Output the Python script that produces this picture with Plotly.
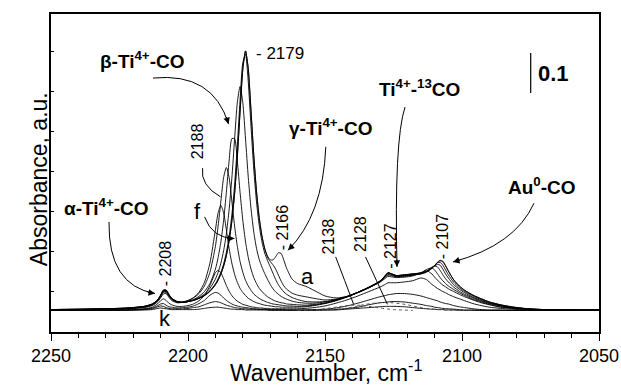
import plotly.graph_objects as go

# ---------------- data ----------------
# wavenumber grid (cm-1) shared by spectra a..k
wavenumber = [2250, 2240, 2230, 2222, 2216, 2213, 2211, 2210, 2209, 2208, 2207, 2206, 2204, 2202, 2200,
              2198, 2196, 2194, 2192, 2190, 2189, 2188, 2187, 2186, 2185, 2184, 2183, 2182, 2181, 2180,
              2179, 2178, 2177, 2176, 2175, 2174, 2173, 2172, 2171, 2170, 2169, 2168, 2167, 2166, 2165,
              2164, 2162, 2160, 2157, 2154, 2150, 2146, 2142, 2138, 2134, 2130, 2128, 2127, 2126, 2124,
              2121, 2118, 2115, 2113, 2111, 2110, 2109, 2108, 2107, 2106, 2105, 2103, 2101, 2099, 2096,
              2093, 2090, 2086, 2082, 2076, 2070, 2060, 2050]

# absorbance of each spectrum, in units of 0.001 (milli-absorbance)
spec_a = [56, 57, 58, 60, 64, 70, 81, 92, 105, 105, 94, 85, 76, 75, 76, 79, 84, 91, 102, 118,
          130, 145, 165, 191, 227, 277, 345, 437, 549, 656, 702, 657, 552, 442, 352, 286, 240, 209, 190, 180,
          180, 188, 198, 196, 179, 159, 132, 121, 114, 104, 90, 85, 89, 99, 111, 126, 141, 148, 146, 141,
          143, 145, 148, 151, 159, 166, 174, 179, 177, 166, 153, 130, 115, 104, 92, 83, 75, 68, 63, 58,
          56, 55, 55]
spec_b = [56, 57, 58, 60, 64, 70, 81, 92, 104, 105, 94, 84, 76, 74, 76, 79, 84, 91, 101, 118,
          130, 145, 164, 191, 227, 276, 345, 437, 550, 656, 702, 657, 552, 441, 350, 284, 238, 207, 187, 176,
          168, 157, 142, 127, 115, 107, 97, 92, 88, 84, 80, 82, 88, 98, 110, 126, 141, 148, 146, 141,
          142, 145, 147, 151, 159, 166, 173, 178, 175, 165, 152, 130, 115, 104, 92, 83, 75, 68, 63, 58,
          56, 55, 55]
spec_c = [56, 57, 58, 60, 64, 70, 81, 92, 103, 104, 94, 84, 76, 74, 76, 79, 84, 92, 103, 120,
          133, 149, 170, 199, 238, 292, 367, 466, 579, 673, 693, 624, 513, 407, 325, 266, 225, 197, 179, 163,
          147, 131, 118, 108, 100, 94, 86, 81, 76, 75, 76, 81, 89, 99, 112, 127, 141, 148, 146, 141,
          143, 145, 147, 151, 160, 166, 173, 174, 167, 155, 143, 124, 111, 101, 90, 81, 74, 67, 62, 58,
          56, 55, 55]
spec_d = [56, 56, 58, 59, 63, 69, 80, 91, 102, 103, 93, 83, 75, 74, 76, 80, 86, 95, 109, 132,
          149, 172, 203, 245, 305, 384, 481, 573, 613, 573, 482, 386, 308, 250, 209, 181, 162, 146, 132, 119,
          108, 100, 94, 89, 85, 82, 77, 74, 72, 72, 75, 80, 88, 99, 112, 127, 140, 147, 145, 140,
          141, 143, 145, 149, 159, 165, 169, 167, 157, 145, 135, 118, 107, 98, 87, 79, 72, 66, 61, 57,
          56, 55, 55]
spec_e = [55, 56, 57, 59, 63, 68, 79, 89, 101, 101, 91, 82, 75, 74, 76, 81, 89, 101, 121, 157,
          186, 225, 279, 349, 427, 483, 483, 427, 349, 279, 225, 186, 157, 136, 121, 109, 101, 94, 88, 84,
          80, 77, 75, 73, 72, 70, 69, 68, 67, 69, 72, 79, 88, 99, 111, 126, 138, 144, 143, 139,
          140, 142, 145, 151, 162, 165, 163, 154, 143, 133, 125, 112, 102, 94, 85, 77, 71, 65, 60, 57,
          55, 55, 54]
spec_f = [55, 56, 57, 59, 62, 68, 78, 88, 99, 99, 90, 82, 75, 75, 79, 85, 96, 115, 149, 214,
          265, 327, 386, 411, 386, 327, 265, 214, 176, 149, 129, 115, 104, 95, 89, 84, 80, 77, 74, 72,
          70, 69, 68, 67, 66, 65, 65, 64, 65, 67, 72, 79, 88, 99, 111, 125, 137, 142, 141, 138,
          139, 142, 147, 156, 160, 155, 146, 136, 128, 121, 115, 106, 98, 91, 82, 75, 69, 63, 60, 57,
          55, 55, 54]
spec_g = [55, 55, 56, 58, 61, 66, 76, 85, 95, 96, 87, 79, 73, 74, 78, 86, 99, 124, 172, 255,
          298, 316, 298, 255, 209, 172, 144, 124, 109, 99, 91, 84, 80, 76, 73, 71, 69, 67, 66, 65,
          64, 63, 63, 62, 62, 62, 62, 62, 63, 66, 71, 78, 87, 99, 111, 124, 134, 139, 138, 136,
          137, 140, 148, 154, 145, 137, 130, 123, 117, 113, 108, 101, 94, 88, 80, 73, 68, 62, 59, 56,
          55, 54, 54]
spec_h = [54, 55, 55, 56, 58, 62, 71, 78, 83, 79, 72, 68, 64, 64, 66, 70, 78, 91, 116, 148,
          154, 148, 133, 116, 102, 91, 83, 77, 73, 69, 67, 65, 63, 62, 61, 60, 60, 59, 59, 58,
          58, 58, 58, 58, 58, 58, 58, 58, 59, 61, 65, 72, 80, 90, 101, 112, 119, 123, 123, 123,
          125, 128, 135, 131, 119, 114, 109, 105, 101, 98, 94, 88, 83, 78, 71, 66, 62, 59, 57, 55,
          54, 54, 54]
spec_i = [54, 54, 55, 55, 57, 60, 66, 70, 71, 67, 63, 62, 60, 61, 62, 65, 71, 79, 92, 99,
          97, 92, 85, 79, 74, 70, 67, 65, 63, 62, 61, 60, 59, 58, 58, 57, 57, 57, 56, 56,
          56, 56, 56, 56, 56, 55, 55, 55, 55, 56, 57, 60, 65, 72, 80, 88, 91, 93, 94, 96,
          96, 94, 90, 86, 82, 80, 78, 75, 73, 71, 70, 66, 63, 61, 58, 56, 55, 55, 54, 54,
          54, 54, 54]
spec_j = [54, 54, 54, 55, 56, 58, 63, 65, 64, 61, 59, 58, 58, 58, 59, 61, 63, 68, 73, 76,
          75, 73, 70, 67, 65, 63, 61, 60, 59, 58, 58, 57, 57, 57, 56, 56, 56, 56, 55, 55,
          55, 55, 55, 55, 55, 55, 55, 55, 55, 55, 55, 56, 59, 62, 68, 73, 74, 75, 76, 76,
          75, 72, 69, 66, 64, 62, 61, 60, 59, 58, 58, 57, 56, 55, 55, 54, 54, 54, 54, 54,
          54, 54, 54]
spec_k = [54, 54, 54, 54, 55, 56, 59, 60, 59, 58, 57, 56, 56, 56, 56, 56, 57, 59, 61, 62,
          62, 61, 60, 59, 58, 57, 57, 56, 56, 56, 55, 55, 55, 55, 55, 55, 55, 55, 55, 54,
          54, 54, 54, 54, 54, 54, 54, 54, 54, 54, 55, 55, 57, 59, 61, 63, 64, 64, 64, 64,
          63, 61, 59, 58, 57, 57, 56, 56, 56, 55, 55, 55, 54, 54, 54, 54, 54, 54, 54, 54,
          54, 54, 54]

# two dotted difference traces (grey dotted in the reference)
dot1_wn = [2160, 2153, 2149, 2145, 2142, 2139, 2136, 2133, 2129, 2125, 2118]
dot1_abs = [54, 56, 59, 63, 66, 67, 66, 63, 59, 56, 54]
dot2_wn = [2150, 2144, 2140, 2136, 2132, 2128, 2124, 2120, 2116, 2112, 2106, 2096]
dot2_abs = [55, 58, 62, 68, 72, 74, 72, 68, 62, 58, 55, 54]

spectra = [spec_a, spec_b, spec_c, spec_d, spec_e, spec_f, spec_g, spec_h, spec_i, spec_j, spec_k]

# ---------------- figure ----------------
fig = go.Figure()
for s in spectra:
    fig.add_trace(go.Scatter(x=wavenumber, y=[v/1000 for v in s], mode="lines",
                             line=dict(color="black", width=0.9, shape="spline", smoothing=0.6),
                             showlegend=False, hoverinfo="skip"))
for xs, ys in [(dot1_wn, dot1_abs), (dot2_wn, dot2_abs)]:
    fig.add_trace(go.Scatter(x=xs, y=[v/1000 for v in ys], mode="lines",
                             line=dict(color="#555", width=1, dash="dot", shape="spline"),
                             showlegend=False, hoverinfo="skip"))

# pixel -> data helpers for placing labels (layout only)
def X(px): return 2250 - (px-51)/2.74
def Y(py): return (331.7-py)/400

FONT = "Liberation Sans, Arial, sans-serif"
ann = []
def txt(t, px, py, size, angle=0, bold=False):
    ann.append(dict(x=X(px), y=Y(py), xref="x", yref="y", text=("<b>%s</b>" % t) if bold else t,
                    showarrow=False, textangle=angle, font=dict(family=FONT, size=size, color="black"),
                    xanchor="center", yanchor="middle"))

txt("β-Ti<sup>4+</sup>-CO", 142, 60, 19, bold=True)
txt("γ-Ti<sup>4+</sup>-CO", 330, 127, 19, bold=True)
txt("Ti<sup>4+</sup>-<sup>13</sup>CO", 419, 88, 19, bold=True)
txt("Au<sup>0</sup>-CO", 542, 186, 19, bold=True)
txt("α-Ti<sup>4+</sup>-CO", 106, 206.5, 19, bold=True)
txt("0.1", 553, 73, 22, bold=True)
txt("- 2179", 280, 53, 17)
txt("- 2208", 165, 264, 16, angle=-90)
txt("- 2166", 282, 228, 16, angle=-90)
txt("2188", 197.5, 141.7, 16, angle=-90)
txt("2138", 328.3, 236, 16, angle=-90)
txt("2128", 360.7, 234, 16, angle=-90)
txt("- 2127", 390.5, 246, 16, angle=-90)
txt("- 2107", 443.3, 236.7, 16, angle=-90)
txt("f", 197, 211, 22)
txt("a", 307.5, 276, 22)
txt("k", 165, 318, 22)

shapes = []
def curve(p0, c, p1, head=True):
    shapes.append(dict(type="path", xref="x", yref="y",
                       path="M %f,%f Q %f,%f %f,%f" % (X(p0[0]), Y(p0[1]), X(c[0]), Y(c[1]), X(p1[0]), Y(p1[1])),
                       line=dict(color="black", width=1)))
    if head:
        dx, dy = c[0]-p1[0], c[1]-p1[1]
        d = (dx*dx+dy*dy)**0.5
        ann.append(dict(x=X(p1[0]), y=Y(p1[1]), xref="x", yref="y", text="", showarrow=True,
                        ax=dx/d*9, ay=dy/d*9, arrowhead=2, arrowsize=1.3, arrowwidth=1, arrowcolor="black",
                        font=dict(size=10)))

curve((153, 78), (213, 72), (228.5, 124))
curve((325.8, 146.7), (323, 215), (288, 250))
curve((405, 107), (394, 140), (397, 266.7))
curve((534, 203), (515, 245), (453, 261.7))
curve((109, 221.7), (108, 285), (155, 293.3))
curve((204.6, 216.7), (212, 238), (234.4, 238.3))
curve((202.6, 168), (200, 185), (220.5, 196.7), head=False)
curve((335.7, 256.7), (344.6, 280), (353.6, 304), head=False)
curve((365.5, 256.7), (376.4, 280), (387.4, 304), head=False)
shapes.append(dict(type="line", xref="x", yref="y", x0=X(530.7), x1=X(530.7), y0=Y(53), y1=Y(93),
                   line=dict(color="black", width=1.2)))

ann.append(dict(x=(24-51)/548, y=(331.7-179)/317.7, xref="paper", yref="paper", text="Absorbance, a.u.",
                showarrow=False, textangle=-90, font=dict(family=FONT, size=23, color="black")))
ann.append(dict(x=(326-51)/548, y=(331.7-370.5)/317.7, xref="paper", yref="paper",
                text="Wavenumber, cm<sup>-1</sup>", showarrow=False, yanchor="middle",
                font=dict(family=FONT, size=23, color="black")))

fig.update_layout(
    template="none",
    width=621, height=385, margin=dict(l=51, r=22, t=14, b=53.3, pad=0),
    paper_bgcolor="white", plot_bgcolor="white", annotations=ann, shapes=shapes,
    xaxis=dict(range=[2250, 2050], tick0=2050, dtick=50, ticks="outside", ticklen=7, tickwidth=1.2,
               tickcolor="black", minor=dict(dtick=10, ticks="outside", ticklen=4, tickcolor="black", tickwidth=1),
               showline=True, linewidth=1.5, linecolor="black", mirror=True, showgrid=False, zeroline=False,
               automargin=False, tickfont=dict(family=FONT, size=18, color="black")),
    yaxis=dict(range=[0, 317.7/400], tick0=0, dtick=0.1, ticks="inside", ticklen=3, tickcolor="black",
               showticklabels=False, showline=True, linewidth=1.5, linecolor="black", mirror=True,
               showgrid=False, zeroline=False, automargin=False),
)
fig.write_html("out.html", config={"displayModeBar": False},
               post_script="document.body.style.margin='0';document.body.style.padding='0';")
